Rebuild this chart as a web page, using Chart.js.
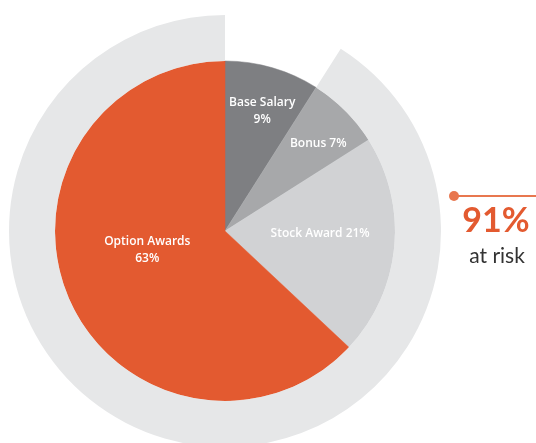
<!DOCTYPE html>
<html>
<head>
<meta charset="utf-8">
<script src="https://cdn.jsdelivr.net/npm/chart.js@4/dist/chart.umd.min.js"></script>
<style>
  html, body { margin: 0; padding: 0; background: #fff; overflow: hidden; width: 536px; height: 443px; }
  #wrap { position: absolute; left: 0; top: 6px; width: 450px; height: 450px; }
  #riskLine { position: absolute; left: 455px; top: 195px; width: 90px; height: 2px; background: #e8774f; }
  #riskDot { position: absolute; left: 449px; top: 191px; width: 10px; height: 10px; border-radius: 50%; background: #e8774f; }
  #riskPct { position: absolute; left: 440px; top: 198px; width: 112px; text-align: center; font: bold 34px Lato, "Open Sans", sans-serif; color: #e35a30; }
  #riskTxt { position: absolute; left: 441px; top: 242px; width: 112px; text-align: center; font: 21px Lato, "Open Sans", sans-serif; color: #333; }
</style>
</head>
<body>
<div id="wrap"><canvas id="chart"></canvas></div>
<div id="riskLine"></div>
<div id="riskDot"></div>
<div id="riskPct">91%</div>
<div id="riskTxt">at risk</div>
<script>
// pay mix data
const categories = ['Base Salary', 'Bonus', 'Stock Award', 'Option Awards'];
const shares = [9, 7, 21, 63];
// outer ring: not at risk vs at risk
const riskParts = ['Fixed', 'At risk'];
const riskShares = [9, 91];

const sliceColors = ['#7e7f82', '#a7a8aa', '#d1d2d4', '#e35a30'];
const ringColors = ['rgba(0,0,0,0)', '#e6e7e8'];
// label placement: fraction of radius, angle shift (deg), two lines?
const labelPos = [[0.74, 1], [0.75, 2], [0.56, -3.6], [0.47, 10]];
const labelBreak = [true, false, false, true];

const sliceLabels = {
    id: 'sliceLabels',
    afterDatasetsDraw(chart) {
        const ctx = chart.ctx;
        const meta = chart.getDatasetMeta(1);
        ctx.save();
        ctx.fillStyle = '#ffffff';
        ctx.font = '600 12px "Open Sans", Lato, sans-serif';
        ctx.textAlign = 'center';
        ctx.textBaseline = 'middle';
        meta.data.forEach((arc, i) => {
            const p = arc.getProps(['x', 'y', 'startAngle', 'endAngle', 'outerRadius'], true);
            const mid = (p.startAngle + p.endAngle) / 2 + labelPos[i][1] * Math.PI / 180;
            const r = p.outerRadius * labelPos[i][0];
            const x = p.x + Math.cos(mid) * r;
            const y = p.y + Math.sin(mid) * r;
            if (labelBreak[i]) {
                ctx.fillText(categories[i], x, y - 8);
                ctx.fillText(shares[i] + '%', x, y + 9);
            } else {
                ctx.fillText(categories[i] + ' ' + shares[i] + '%', x, y);
            }
        });
        ctx.restore();
    }
};

const ctx = document.getElementById('chart').getContext('2d');
new Chart(ctx, {
    type: 'doughnut',
    data: {
        labels: categories,
        datasets: [{
            label: 'risk',
            data: riskShares,
            backgroundColor: ringColors,
            borderWidth: 0,
            weight: 46
        }, {
            label: 'pay mix',
            data: shares,
            backgroundColor: sliceColors,
            borderColor: sliceColors,
            borderWidth: 0.5,
            weight: 170
        }]
    },
    options: {
        responsive: true,
        maintainAspectRatio: false,
        animation: false,
        cutout: 0,
        layout: { padding: 9 },
        plugins: {
            legend: { display: false },
            tooltip: { enabled: false }
        },
        events: []
    },
    plugins: [sliceLabels]
});
</script>
</body>
</html>
